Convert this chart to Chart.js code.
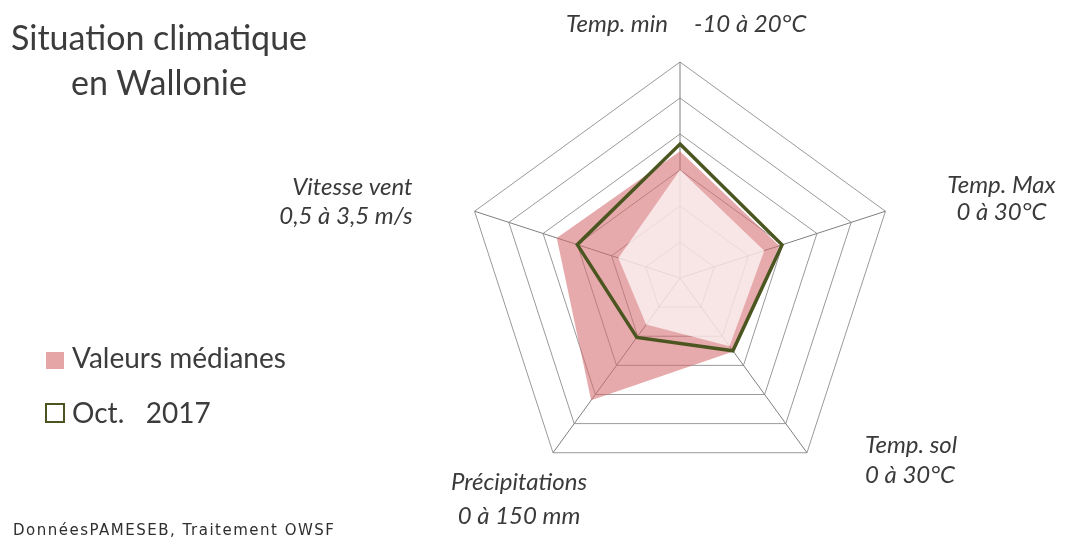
<!DOCTYPE html>
<html>
<head>
<meta charset="utf-8">
<script src="https://cdn.jsdelivr.net/npm/chart.js@4/dist/chart.umd.min.js"></script>
<style>
  body { margin: 0; background: #fff; }
  #wrap { position: relative; width: 1066px; height: 544px; overflow: hidden; font-family: Lato, sans-serif; color: #3c3c3c; }
  #wrap canvas { position: absolute; left: 0; top: 0; }
  .txt { position: absolute; white-space: pre; line-height: 1; }
  .title { left: 0; width: 318px; text-align: center; font-size: 34px; }
  .leg { left: 72px; font-size: 28px; }
  .box { position: absolute; box-sizing: border-box; }
  .foot { left: 13px; top: 523px; font-family: "DejaVu Sans", sans-serif; font-size: 15px; letter-spacing: 1.5px; color: #2e2e2e; }
</style>
</head>
<body>
<div id="wrap">
  <canvas id="radar" width="1066" height="544"></canvas>
  <div class="txt title" style="top:20px">Situation climatique</div>
  <div class="txt title" style="top:65px">en Wallonie</div>
  <div class="box" style="left:46px;top:352px;width:18px;height:17px;background:#e5a5a7"></div>
  <div class="txt leg" style="top:343px">Valeurs médianes</div>
  <div class="box" style="left:45px;top:403px;width:20px;height:20px;border:2px solid #4b5520"></div>
  <div class="txt leg" style="top:398px">Oct.   2017</div>
  <div class="txt foot">DonnéesPAMESEB, Traitement OWSF</div>
</div>
<script>
// axes of the radar and the range shown on each one
const categories = ['Temp. min', 'Temp. Max', 'Temp. sol', 'Précipitations', 'Vitesse vent'];
const axisRanges = ['-10 à 20°C', '0 à 30°C', '0 à 30°C', '0 à 150 mm', '0,5 à 3,5 m/s'];
const axisMin = [-10, 0, 0, 0, 0.5];
const axisMax = [20, 30, 30, 150, 3.5];

// values (°C, °C, °C, mm, m/s)
const oct2017 = [8.6, 14.9, 12.5, 51, 2.0];
const medianHigh = [7.6, 14.5, 12.6, 105, 2.3];
const medianLow = [5.0, 12.3, 11.7, 40, 1.4];

const rings = 6;
// every axis has its own unit, the radar shows them as a share of the axis range
const toRings = vals => vals.map((v, i) => rings * (v - axisMin[i]) / (axisMax[i] - axisMin[i]));

// where each axis title sits, relative to the outer corner of the web
const labelPlaces = [
  {dx: 0, dy: -30, align: 'inline', lh: 0},
  {dx: 116, dy: -18, align: 'center', lh: 27},
  {dx: 58, dy: 0, align: 'left', lh: 30},
  {dx: -34, dy: 37, align: 'center', lh: 34},
  {dx: -62, dy: -16, align: 'right', lh: 29}
];

const axisTitles = {
  id: 'axisTitles',
  afterDraw(chart) {
    const scale = chart.scales.r;
    const ctx = chart.ctx;
    ctx.save();
    ctx.font = 'italic 24px Lato';
    ctx.fillStyle = '#3a3a3a';
    ctx.textBaseline = 'alphabetic';
    categories.forEach((cat, i) => {
      const p = scale.getPointPositionForValue(i, scale.max);
      const pl = labelPlaces[i];
      const x = p.x + pl.dx;
      const y = p.y + pl.dy;
      if (pl.align === 'inline') {
        ctx.textAlign = 'right';
        ctx.fillText(cat, x - 12, y);
        ctx.textAlign = 'left';
        ctx.fillText(axisRanges[i], x + 14, y);
      } else {
        ctx.textAlign = pl.align;
        ctx.fillText(cat, x, y);
        ctx.fillText(axisRanges[i], x, y + pl.lh);
      }
    });
    ctx.restore();
  }
};

new Chart(document.getElementById('radar'), {
  type: 'radar',
  data: {
    labels: categories,
    datasets: [
      {
        label: 'Oct. 2017',
        data: toRings(oct2017),
        borderColor: '#4b5520',
        borderWidth: 3.5,
        backgroundColor: 'rgba(0,0,0,0)',
        fill: false,
        pointRadius: 0
      },
      {
        label: 'Valeurs médianes (bas)',
        data: toRings(medianLow),
        borderWidth: 0,
        backgroundColor: 'rgba(255,255,255,0.7)',
        fill: true,
        pointRadius: 0
      },
      {
        label: 'Valeurs médianes',
        data: toRings(medianHigh),
        borderWidth: 0,
        backgroundColor: 'rgba(214,108,112,0.58)',
        fill: true,
        pointRadius: 0
      }
    ]
  },
  options: {
    responsive: false,
    animation: false,
    devicePixelRatio: 1,
    layout: { padding: { left: 464, right: 170, top: 62, bottom: 50 } },
    plugins: {
      legend: { display: false },
      title: { display: false },
      tooltip: { enabled: false }
    },
    scales: {
      r: {
        min: 0,
        max: rings,
        ticks: { display: false, stepSize: 1 },
        grid: { color: '#999999', lineWidth: 1 },
        angleLines: { display: false },
        pointLabels: { display: false }
      },
      // second copy of the web only for the spokes, drawn over the fills
      spokes: {
        type: 'radialLinear',
        axis: 'r',
        z: 1,
        min: 0,
        max: rings,
        ticks: { display: false, stepSize: 1 },
        grid: { display: false },
        angleLines: { display: true, color: '#7f7f7f', lineWidth: 1 },
        pointLabels: { display: false }
      }
    }
  },
  plugins: [axisTitles]
});
</script>
</body>
</html>
